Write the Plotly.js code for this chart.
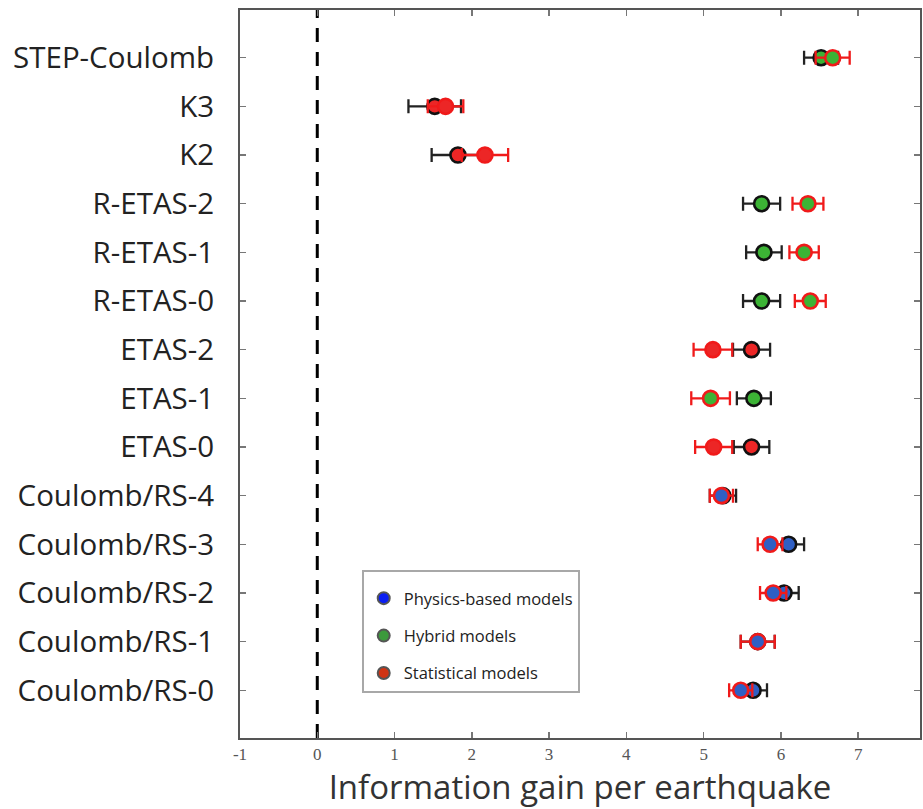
<!DOCTYPE html>
<html>
<head>
<meta charset="utf-8">
<script src="https://cdn.plot.ly/plotly-3.0.1.min.js"></script>
<style>html,body{margin:0;padding:0;background:#fff;}#chart{width:923px;height:809px;}</style>
</head>
<body>
<div id="chart"></div>
<script>
// Models, listed top to bottom
const models = ["STEP-Coulomb", "K3", "K2", "R-ETAS-2", "R-ETAS-1", "R-ETAS-0",
  "ETAS-2", "ETAS-1", "ETAS-0", "Coulomb/RS-4", "Coulomb/RS-3", "Coulomb/RS-2",
  "Coulomb/RS-1", "Coulomb/RS-0"];
const modelType = ["hybrid", "statistical", "statistical", "hybrid", "hybrid", "hybrid",
  "statistical", "hybrid", "statistical", "physics", "physics", "physics", "physics", "physics"];
// black-outlined estimates
const blackGain = [6.52, 1.52, 1.82, 5.75, 5.78, 5.75, 5.62, 5.65, 5.62, 5.25, 6.10, 6.04, 5.70, 5.64];
const blackErr  = [0.22, 0.34, 0.34, 0.24, 0.23, 0.24, 0.24, 0.22, 0.23, 0.17, 0.20, 0.19, 0.22, 0.18];
// red-outlined estimates
const redGain = [6.67, 1.66, 2.17, 6.35, 6.30, 6.38, 5.12, 5.09, 5.13, 5.23, 5.86, 5.90, 5.70, 5.48];
const redErr  = [0.22, 0.23, 0.30, 0.20, 0.19, 0.20, 0.25, 0.25, 0.24, 0.15, 0.16, 0.17, 0.22, 0.15];
const legendNames = ["Physics-based models", "Hybrid models", "Statistical models"];
const xTicks = [-1, 0, 1, 2, 3, 4, 5, 6, 7];

const fill = {physics: "#2f5fc4", hybrid: "#3cb335", statistical: "#ec2626"};
const legendColors = ["#0a1ef2", "#3c9a3c", "#cf3414"];
const fills = modelType.map(t => fill[t]);

const traces = [
  {
    type: "scatter", mode: "markers", x: blackGain, y: models, showlegend: false,
    marker: {symbol: "circle", size: 15, color: fills, line: {color: "#111", width: 2.6}},
    error_x: {type: "data", array: blackErr, visible: true, color: "#222", thickness: 2.3, width: 7}
  },
  {
    type: "scatter", mode: "markers", x: redGain, y: models, showlegend: false,
    marker: {symbol: "circle", size: 15, color: fills, line: {color: "#f01a1a", width: 2.6}},
    error_x: {type: "data", array: redErr, visible: true, color: "#f01a1a", thickness: 2.3, width: 7}
  }
];
legendNames.forEach((n, i) => {
  traces.push({
    type: "scatter", mode: "markers", x: [null], y: [null], name: n, legendgroup: "g" + i,
    marker: {symbol: "circle", size: 18, color: legendColors[i], line: {color: "#555", width: 0.5}}
  });
});

const layout = {
  width: 923, height: 809,
  margin: {l: 240, r: 3, t: 10, b: 71},
  paper_bgcolor: "#fff", plot_bgcolor: "#fff",
  font: {family: "Open Sans, sans-serif", color: "#222"},
  showlegend: true,
  legend: {
    x: 0.179, y: 0.231, xanchor: "left", yanchor: "top",
    bordercolor: "#a8a8a8", borderwidth: 2, bgcolor: "#fff",
    font: {size: 16.5, color: "#222"}, tracegroupgap: 13,
    itemsizing: "constant",
    title: {text: " ", font: {size: 7}}
  },
  xaxis: {
    range: [-1, 7.8], tickmode: "array", tickvals: xTicks, ticktext: xTicks.map(String),
    ticks: "inside", ticklen: 6, tickwidth: 1.5, tickcolor: "#777",
    showline: true, linecolor: "#555", linewidth: 2, mirror: "ticks",
    showgrid: false, zeroline: false,
    tickfont: {family: "Liberation Serif, serif", size: 17, color: "#555"},
    title: {text: "Information gain per earthquake", font: {size: 33, color: "#333"}, standoff: 16}
  },
  yaxis: {
    type: "category", categoryorder: "array", categoryarray: models,
    range: [13.98, -0.98], autorange: false,
    ticks: "inside", ticklen: 6, tickwidth: 1.5, tickcolor: "#777",
    showline: true, linecolor: "#555", linewidth: 2, mirror: "ticks",
    showgrid: false, zeroline: false,
    tickfont: {size: 29.5, color: "#222"}, ticklabelstandoff: 18
  },
  shapes: [{
    type: "line", xref: "x", yref: "paper", x0: 0, x1: 0, y0: 0, y1: 1,
    line: {color: "#000", width: 3, dash: "14px,10px"}, layer: "below"
  }]
};

Plotly.newPlot("chart", traces, layout, {displayModeBar: false, staticPlot: true});
</script>
</body>
</html>
